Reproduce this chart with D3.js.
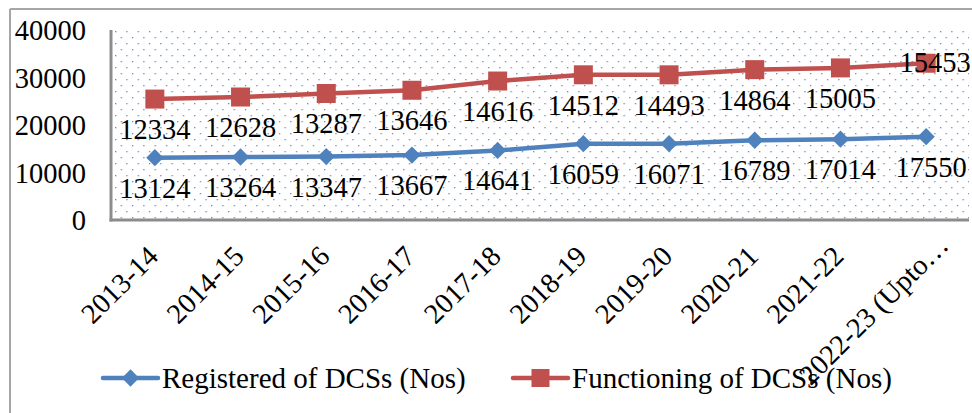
<!DOCTYPE html>
<html><head><meta charset="utf-8">
<script src="https://cdn.jsdelivr.net/npm/d3@7"></script>
<style>html,body{margin:0;padding:0;background:#fff;}svg{display:block;font-family:"Liberation Serif","Times New Roman",serif;}</style>
</head><body>
<svg id="c" width="972" height="413"></svg>
<script>
const categories = ["2013-14","2014-15","2015-16","2016-17","2017-18","2018-19","2019-20","2020-21","2021-22","2022-23 (Upto…"];
const registered = [13124,13264,13347,13667,14641,16059,16071,16789,17014,17550];
const functioning = [12334,12628,13287,13646,14616,14512,14493,14864,15005,15453];
const yTicks = [0,10000,20000,30000,40000];
const seriesNames = ["Registered of DCSs (Nos)","Functioning of DCSs (Nos)"];
const colors = ["#4F81BD","#C0504D"];

const FS = 28.5;
const svg = d3.select("#c");
const L = 112, R = 969, T = 30, B = 220;
const x = d3.scaleBand().domain(categories).range([L, R]).padding(0);
const y = d3.scaleLinear().domain([0, 40000]).range([B, T]);
const cx = c => x(c) + x.bandwidth()/2;
const last = categories[categories.length-1];

// stacked values
const stacked = d3.stack().keys(["reg","fun"])(categories.map((c,i)=>({cat:c, reg:registered[i], fun:functioning[i]})));

// outer border
svg.append("line").attr("x1",10).attr("x2",972).attr("y1",9).attr("y2",9).attr("stroke","#a6a6a6").attr("stroke-width",2);
svg.append("line").attr("x1",10).attr("x2",10).attr("y1",9).attr("y2",413).attr("stroke","#a6a6a6").attr("stroke-width",2);

// dotted pattern
const defs = svg.append("defs");
const pat = defs.append("pattern").attr("id","dots").attr("patternUnits","userSpaceOnUse")
  .attr("x",L+3).attr("y",T+1).attr("width",11.3).attr("height",12);
pat.append("rect").attr("x",0).attr("y",0).attr("width",1.3).attr("height",1.3).attr("fill","#5f8bd3");
pat.append("rect").attr("x",5.65).attr("y",6).attr("width",1.3).attr("height",1.3).attr("fill","#5f8bd3");
svg.append("rect").attr("x",L).attr("y",T).attr("width",R-L).attr("height",B-T).attr("fill","url(#dots)");

// plot borders
svg.append("line").attr("x1",L-1).attr("x2",L-1).attr("y1",T).attr("y2",B+1.5).attr("stroke","#8c8c8c").attr("stroke-width",3);
svg.append("line").attr("x1",L-2.5).attr("x2",R).attr("y1",B).attr("y2",B).attr("stroke","#8c8c8c").attr("stroke-width",3);

// y axis labels
const yAxis = d3.axisLeft(y).tickValues(yTicks).tickSize(0).tickPadding(0).tickFormat(d3.format("d"));
const ya = svg.append("g").attr("transform","translate(86,0)").call(yAxis);
ya.select(".domain").remove();
ya.selectAll("text").attr("font-size",FS).attr("font-family","Liberation Serif").attr("fill","#000").attr("dy","0.34em");

// x axis labels
const xAxis = d3.axisBottom(x).tickSize(0).tickPadding(0);
const xa = svg.append("g").call(xAxis);
xa.select(".domain").remove();
xa.selectAll(".tick").attr("transform", d => d===last ? `translate(${cx(d)+24},247)` : `translate(${cx(d)+5},258)`);
xa.selectAll("text").attr("font-size",FS).attr("font-family","Liberation Serif").attr("fill","#000")
  .attr("text-anchor","end").attr("x",0).attr("y",0).attr("dy",0).attr("transform","rotate(-45)");

// lines
const line = d3.line().x(d => cx(d.data.cat)).y(d => y(d[1]));
stacked.forEach((s,si)=>{
  svg.append("path").datum(s).attr("d",line).attr("fill","none").attr("stroke",colors[si]).attr("stroke-width",4.5).attr("stroke-linejoin","round");
});
// markers
const diamond = d3.symbol().type(d3.symbolDiamond2).size(190);
svg.append("g").selectAll("path").data(stacked[0]).join("path")
  .attr("d",diamond).attr("transform",d=>`translate(${cx(d.data.cat)},${y(d[1])})`).attr("fill",colors[0]);
svg.append("g").selectAll("rect").data(stacked[1]).join("rect")
  .attr("x",d=>cx(d.data.cat)-9.5).attr("y",d=>y(d[1])-9.5).attr("width",19).attr("height",19).attr("fill",colors[1]);

// data labels
const vals = [registered, functioning];
const lastDx = [5, 9];
stacked.forEach((s,si)=>{
  svg.append("g").selectAll("text").data(s).join("text")
    .attr("x", d => cx(d.data.cat) + (d.data.cat===last ? lastDx[si] : 0))
    .attr("y", d => (si===1 && d.data.cat===last) ? y(d[1]) + 9 : y(d[1]) + 40)
    .attr("text-anchor","middle").attr("font-size",FS).attr("fill","#000")
    .text((d,i) => vals[si][i]);
});

// legend
const lg = [{x0:103, tx:162}, {x0:513, tx:572}];
lg.forEach((g,i)=>{
  const gy = 378;
  svg.append("line").attr("x1",g.x0).attr("x2",g.x0+55).attr("y1",gy).attr("y2",gy).attr("stroke",colors[i]).attr("stroke-width",4.5).attr("stroke-linecap","round");
  if(i===0) svg.append("path").attr("d",diamond).attr("transform",`translate(${g.x0+27.5},${gy})`).attr("fill",colors[0]);
  else svg.append("rect").attr("x",g.x0+27.5-9).attr("y",gy-9).attr("width",18).attr("height",18).attr("fill",colors[1]);
  svg.append("text").attr("x",g.tx).attr("y",gy+10).attr("font-size",29).attr("fill","#000").text(seriesNames[i]);
});
</script>
</body></html>
